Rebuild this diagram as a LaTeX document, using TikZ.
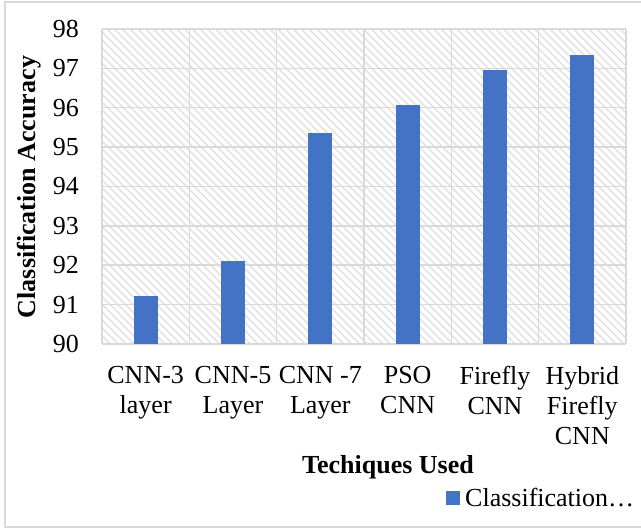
\documentclass[tikz,border=0pt]{standalone}
\usepackage{fontspec}
\setmainfont{Liberation Serif}
\usetikzlibrary{patterns.meta}
\definecolor{barblue}{HTML}{4472C4}
\definecolor{gridgray}{HTML}{D9D9D9}
\tikzset{
  ticklabel/.style={anchor=east, inner sep=0pt},
  catlabel/.style={anchor=north, align=center, inner sep=0pt},
  axistitle/.style={font=\fontsize{26}{30}\selectfont\bfseries, inner sep=0pt}
}
\begin{document}
\begin{tikzpicture}[x=1pt, y=-1pt, font=\fontsize{26}{30}\selectfont]
  \useasboundingbox (0,0) rectangle (641,529);
  % frame round the chart
  \draw[color=gridgray, line width=1.5pt] (660,2) -- (5,2) -- (5,527) -- (660,527);
  % hatched plot area
  \fill[pattern={Lines[angle=-45, distance=5.5pt, line width=1.6pt]}, pattern color=gray!22] (102,29) rectangle (626,344);
  % grid
  \foreach \v in {90,...,98}
    \draw[color=gridgray, line width=1.5pt] (102,{344-(\v-90)*39.375}) -- (626,{344-(\v-90)*39.375});
  \foreach \i in {0,...,6}
    \draw[color=gridgray, line width=1.5pt] ({102+\i*87.333},29) -- ({102+\i*87.333},344);
  % bars
  \foreach \val [count=\i] in {91.22, 92.1, 95.37, 96.07, 96.96, 97.33}
    \fill[barblue] ({102+(\i-0.5)*87.333-12},344) rectangle ({102+(\i-0.5)*87.333+12},{344-(\val-90)*39.375});
  % value axis
  \foreach \v in {90,...,98}
    \node[ticklabel] (tick\v) at (79,{344-(\v-90)*39.375}) {\v};
  % categories
  \foreach \lab [count=\i] in {CNN-3\\layer, CNN-5\\Layer, CNN -7\\Layer, PSO\\CNN, Firefly\\CNN, Hybrid\\Firefly\\CNN}
    \node[catlabel] (cat\i) at ({102+(\i-0.5)*87.333},366) {\lab};
  % titles
  \node[axistitle, rotate=90] (ytitle) at (29,187) {Classification Accuracy};
  \node[axistitle] (xtitle) at (388,467) {Techiques Used};
  % legend
  \fill[barblue] (446,491) rectangle (460,505);
  \node[anchor=west, inner sep=0pt] (legend) at (465,498) {Classification\ldots};
\end{tikzpicture}
\end{document}
